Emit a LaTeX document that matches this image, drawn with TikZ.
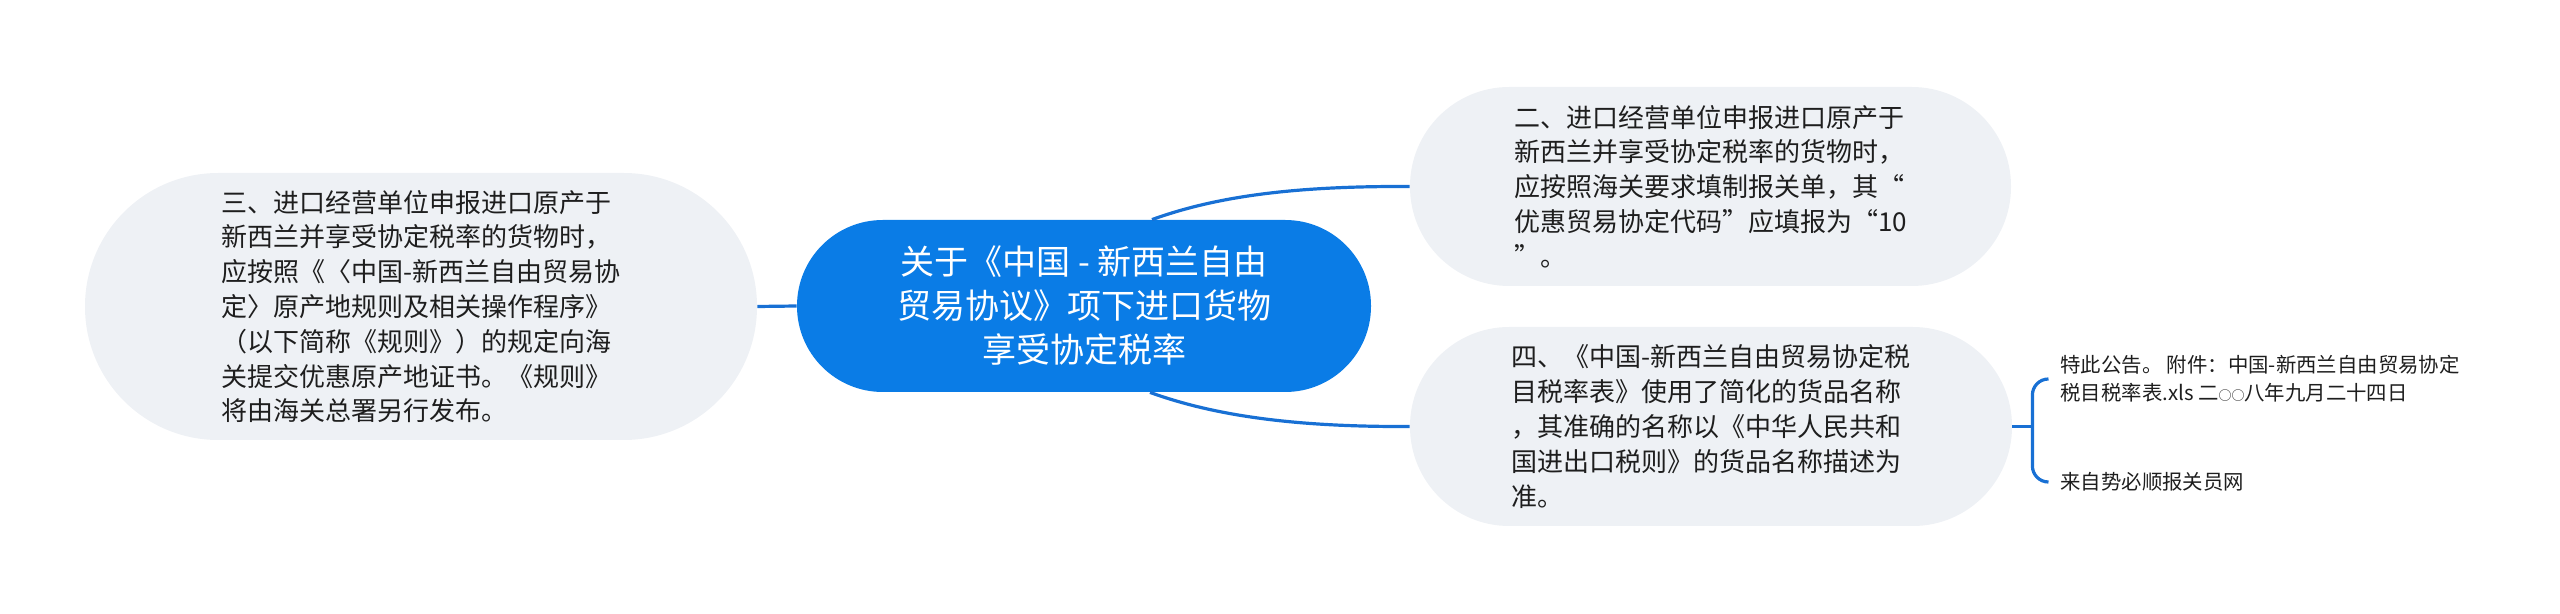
\documentclass[tikz,border=0pt]{standalone}
\usepackage{fontspec}
\usepackage{xcolor}
\usepackage{tikz}
\usetikzlibrary{calc}
\newfontfamily\cjk{Noto Sans CJK SC}
\definecolor{mapblue}{RGB}{10,124,230}
\definecolor{linkblue}{RGB}{24,112,212}
\definecolor{bubblegrey}{RGB}{238,241,245}
\definecolor{ink}{RGB}{30,30,30}
\def\bodyfont{\cjk\fontsize{13pt}{17.4pt}\selectfont}
\def\ling{{\fontsize{6.5pt}{6.5pt}\selectfont ○}}

\begin{document}
\begin{tikzpicture}[x=0.5pt,y=-0.5pt,
	topic/.style={fill=mapblue,text=white,align=center,inner sep=0pt,
		font=\cjk\fontsize{17pt}{22pt}\selectfont,
		minimum width=287pt,minimum height=86pt,rounded corners=42.9pt},
	sub/.style={fill=bubblegrey,text=ink,align=left,inner sep=0pt,font=\bodyfont},
	leaf/.style={text=ink,align=left,anchor=west,inner xsep=6pt,inner ysep=0pt,
		font=\cjk\fontsize{10.2pt}{14pt}\selectfont},
	link/.style={draw=linkblue,line width=1.6pt}]
					\useasboundingbox (0,0) rectangle (2560,614);
					\node[topic] (root) at (1084,306) {关于《中国 - 新西兰自由\\贸易协议》项下进口货物\\享受协定税率};
					\node[sub,minimum width=336pt,minimum height=133.5pt,rounded corners=66.6pt] (rules) at (421,306.5) {三、进口经营单位申报进口原产于\\新西兰并享受协定税率的货物时，\\应按照《〈中国-新西兰自由贸易协\\定〉原产地规则及相关操作程序》\\（以下简称《规则》）的规定向海\\关提交优惠原产地证书。《规则》\\将由海关总署另行发布。};
					\node[sub,minimum width=300.5pt,minimum height=99.5pt,rounded corners=49.6pt] (code) at (1710.5,186.5) {二、进口经营单位申报进口原产于\\新西兰并享受协定税率的货物时，\\应按照海关要求填制报关单，其“\\优惠贸易协定代码”应填报为“10\\”。};
					\node[sub,minimum width=301pt,minimum height=99.5pt,rounded corners=49.6pt] (table) at (1711,426.5) {四、《中国-新西兰自由贸易协定税\\目税率表》使用了简化的货品名称\\，其准确的名称以《中华人民共和\\国进出口税则》的货品名称描述为\\准。};
					\node[leaf] (notice) at (2048,379) {特此公告。 附件：中国-新西兰自由贸易协定\\税目税率表.xls 二\ling\ling 八年九月二十四日};
					\node[leaf] (source) at (2048,482) {来自势必顺报关员网};
					\coordinate (fork) at ($(table.east)+(20,0)$);
					\draw[link] (rules.east) -- (root.west);
					\draw[link] ($(root.north)+(68,0)$) .. controls (1220,195) and (1300,186) .. (code.west);
					\draw[link] ($(root.south)+(66,0)$) .. controls (1218,417) and (1300,427) .. (table.west);
					\draw[link] (table.east) -- (fork);
					\draw[link,rounded corners=8pt] (notice.west) -| (fork) |- (source.west);
				\end{tikzpicture}
\end{document}
